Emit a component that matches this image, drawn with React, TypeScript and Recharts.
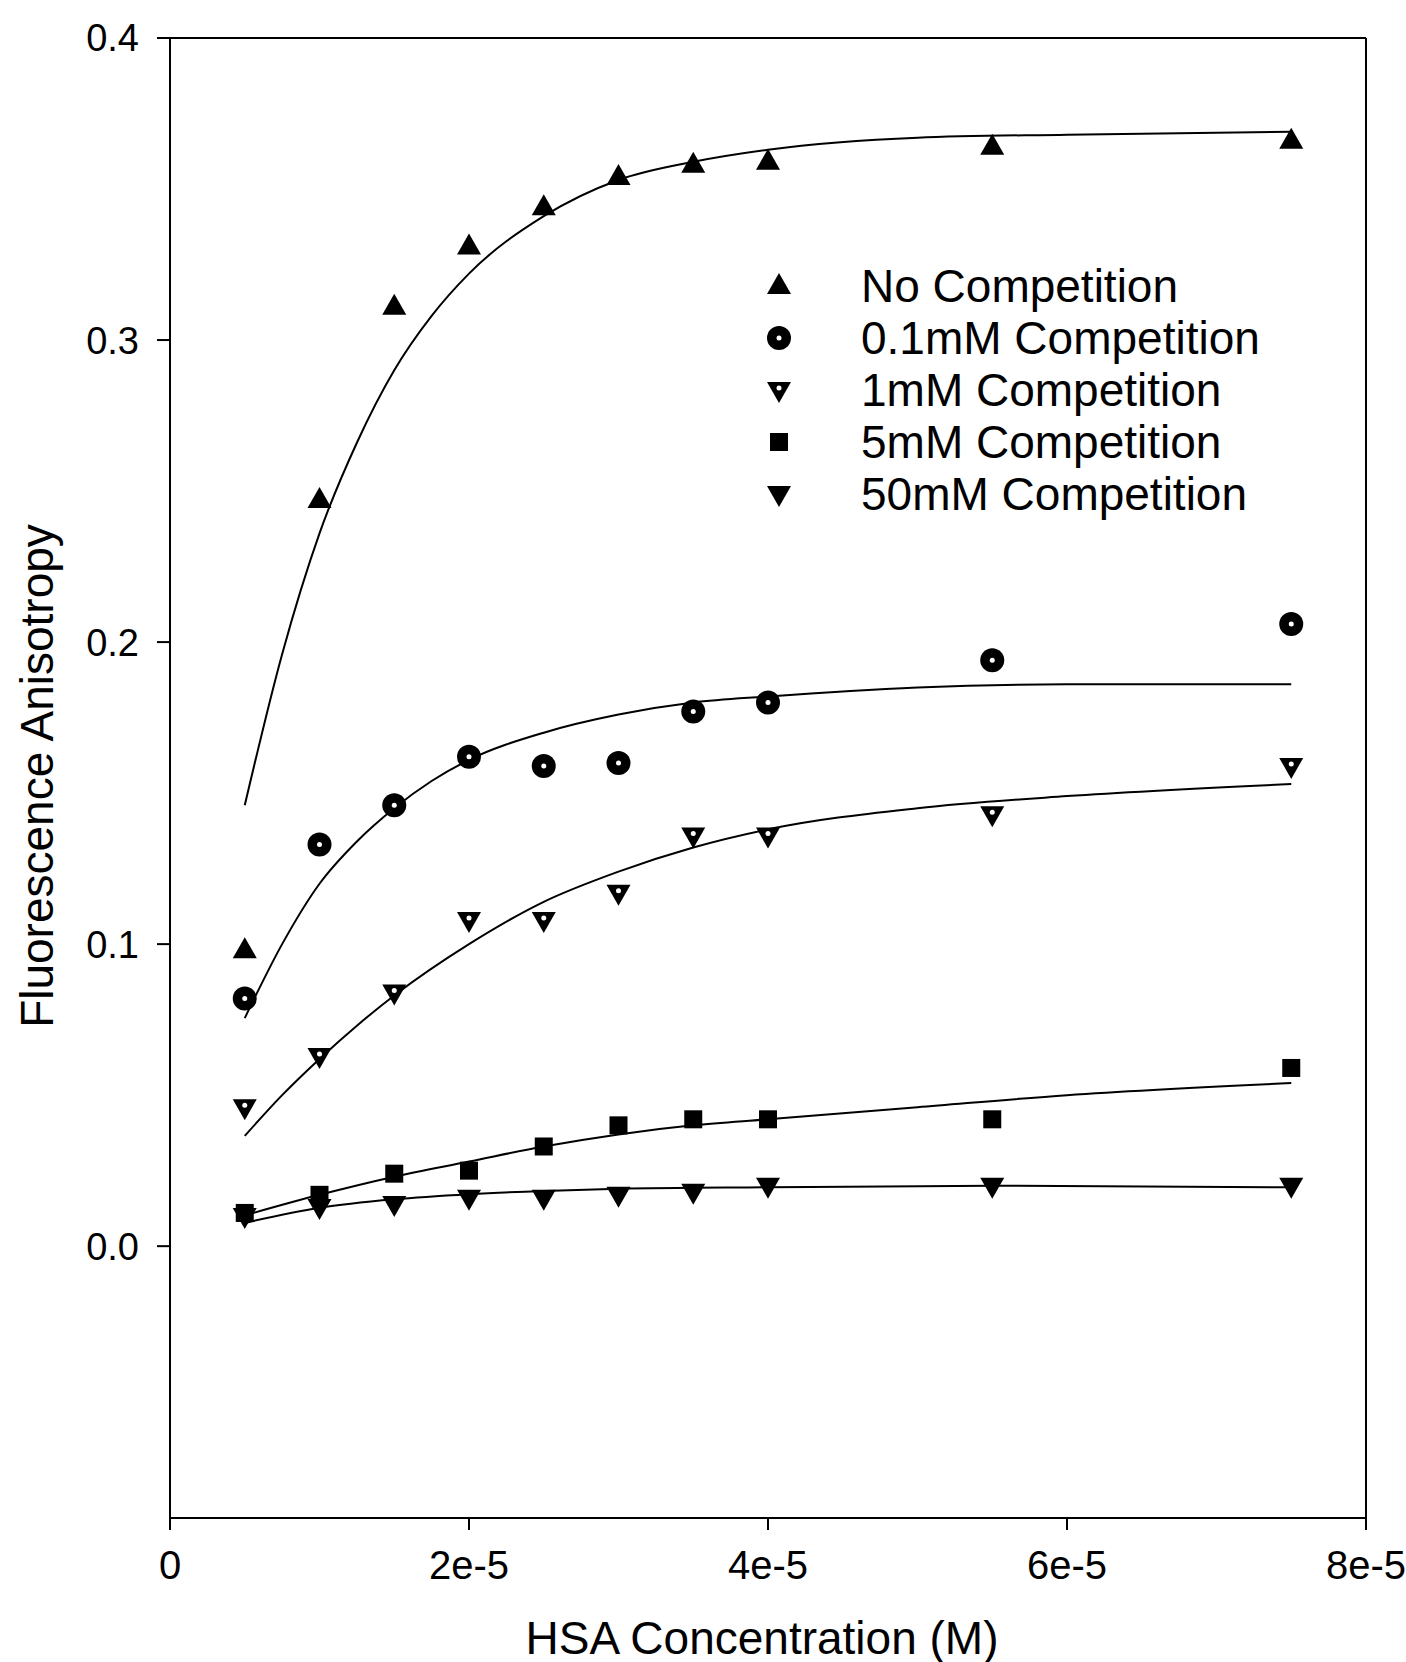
import React from 'react';
import { ComposedChart, Line, Scatter, XAxis, YAxis, ReferenceLine } from 'recharts';

// HSA concentration (M) of the measured points
const hsaConc = [5e-6, 1e-5, 1.5e-5, 2e-5, 2.5e-5, 3e-5, 3.5e-5, 4e-5, 5.5e-5, 7.5e-5];

// measured anisotropy
const noComp = [0.098, 0.247, 0.311, 0.331, 0.344, 0.354, 0.358, 0.359, 0.364, 0.366];
const comp01 = [0.082, 0.133, 0.146, 0.162, 0.159, 0.16, 0.177, 0.18, 0.194, 0.206];
const comp1 = [0.046, 0.063, 0.084, 0.108, 0.108, 0.117, 0.136, 0.136, 0.143, 0.159];
const comp5 = [0.011, 0.017, 0.024, 0.025, 0.033, 0.04, 0.042, 0.042, 0.042, 0.059];
const comp50 = [0.01, 0.013, 0.014, 0.016, 0.016, 0.017, 0.018, 0.02, 0.02, 0.02];

// fitted curves
const fitNoCompX = [5e-6, 7.5e-6, 1e-5, 1.25e-5, 1.5e-5, 1.75e-5, 2e-5, 2.5e-5, 3e-5, 3.5e-5, 4e-5, 5e-5, 6e-5, 7.5e-5];
const fitNoCompY = [0.146, 0.196, 0.236, 0.266, 0.29, 0.308, 0.322, 0.341, 0.353, 0.359, 0.363, 0.367, 0.368, 0.369];
const fit01X = [5e-6, 7.5e-6, 1e-5, 1.25e-5, 1.5e-5, 1.75e-5, 2e-5, 2.5e-5, 3e-5, 3.5e-5, 4e-5, 5e-5, 6e-5, 7.5e-5];
const fit01Y = [0.0755, 0.1, 0.12, 0.134, 0.145, 0.154, 0.161, 0.17, 0.176, 0.18, 0.182, 0.185, 0.186, 0.186];
const fit1X = [5e-6, 7.5e-6, 1e-5, 1.25e-5, 1.5e-5, 2e-5, 2.5e-5, 3e-5, 3.5e-5, 4e-5, 5e-5, 6e-5, 7.5e-5];
const fit1Y = [0.0365, 0.05, 0.062, 0.073, 0.083, 0.1, 0.114, 0.124, 0.132, 0.138, 0.145, 0.149, 0.153];
const fit5X = [5e-6, 1e-5, 1.5e-5, 2e-5, 2.5e-5, 3e-5, 3.5e-5, 4e-5, 5e-5, 6e-5, 7.5e-5];
const fit5Y = [0.0102, 0.017, 0.023, 0.028, 0.033, 0.037, 0.04, 0.042, 0.046, 0.05, 0.054];
const fit50X = [5e-6, 1e-5, 1.5e-5, 2e-5, 2.5e-5, 3e-5, 4e-5, 5.5e-5, 7.5e-5];
const fit50Y = [0.0077, 0.0127, 0.0155, 0.0172, 0.0183, 0.019, 0.0195, 0.02, 0.0195];

const xTicks = [0, 2e-5, 4e-5, 6e-5, 8e-5];
const yTicks = [0, 0.1, 0.2, 0.3, 0.4];

const seriesNames = ['No Competition', '0.1mM Competition', '1mM Competition', '5mM Competition', '50mM Competition'];

const pts = (xs: number[], ys: number[]) => xs.map((x, i) => ({ x, y: ys[i] }));

const FONT = '"Liberation Sans", Arial, Helvetica, sans-serif';

const TriUp = ({ cx, cy }: any) => (
  <path d={`M${cx},${cy - 13} L${cx + 12},${cy + 8} L${cx - 12},${cy + 8} Z`} fill="#000" />
);
const Ring = ({ cx, cy }: any) => (
  <g>
    <circle cx={cx} cy={cy} r={12} fill="#000" />
    <circle cx={cx} cy={cy} r={2.5} fill="#fff" />
  </g>
);
const TriDownDot = ({ cx, cy }: any) => (
  <g>
    <path d={`M${cx - 12},${cy - 8} L${cx + 12},${cy - 8} L${cx},${cy + 13} Z`} fill="#000" />
    <circle cx={cx} cy={cy - 2} r={2.5} fill="#fff" />
  </g>
);
const Square = ({ cx, cy }: any) => <rect x={cx - 9} y={cy - 9} width={18} height={18} fill="#000" />;
const TriDown = ({ cx, cy }: any) => (
  <path d={`M${cx - 12},${cy - 8} L${cx + 12},${cy - 8} L${cx},${cy + 13} Z`} fill="#000" />
);

const shapes = [TriUp, Ring, TriDownDot, Square, TriDown];

const LegendBox = () => (
  <div style={{ position: 'absolute', left: 759, top: 260, fontFamily: FONT, fontSize: 46, color: '#000' }}>
    {seriesNames.map((name, i) => {
      const Shape = shapes[i];
      return (
        <div key={name} style={{ display: 'flex', alignItems: 'center', height: 52 }}>
          <svg width={40} height={40} style={{ marginRight: 62 }}>
            <Shape cx={20} cy={20} />
          </svg>
          <span style={{ lineHeight: '52px', whiteSpace: 'nowrap' }}>{name}</span>
        </div>
      );
    })}
  </div>
);

const fitLine = (xs: number[], ys: number[], key: string) => (
  <Line
    key={key}
    data={pts(xs, ys)}
    dataKey="y"
    type="monotone"
    dot={false}
    stroke="#000"
    strokeWidth={2}
    isAnimationActive={false}
  />
);

const App: React.FC = () => {
  return (
    <div style={{ position: 'absolute', left: 0, top: 0, width: 1406, height: 1662, background: '#fff' }}>
      <ComposedChart width={1406} height={1662} margin={{ top: 38, right: 40, left: 70, bottom: 64 }}>
        <XAxis
          type="number"
          dataKey="x"
          domain={[0, 8e-5]}
          ticks={xTicks}
          allowDataOverflow
          tickFormatter={(v: number) => (v === 0 ? '0' : `${Math.round(v * 1e5)}e-5`)}
          stroke="#000"
          strokeWidth={2}
          tickSize={12}
          tickMargin={21}
          height={80}
          tick={{ fill: '#000', fontSize: 40, fontFamily: FONT }}
        />
        <YAxis
          type="number"
          dataKey="y"
          domain={[-0.09, 0.4]}
          ticks={yTicks}
          allowDataOverflow
          tickFormatter={(v: number) => v.toFixed(1)}
          stroke="#000"
          strokeWidth={2}
          tickSize={13}
          tickMargin={18}
          width={100}
          tick={{ fill: '#000', fontSize: 38, fontFamily: FONT }}
        />
        <ReferenceLine y={0.4} stroke="#000" strokeWidth={2} />
        <ReferenceLine x={8e-5} stroke="#000" strokeWidth={2} />

        {fitLine(fitNoCompX, fitNoCompY, 'f0')}
        {fitLine(fit01X, fit01Y, 'f1')}
        {fitLine(fit1X, fit1Y, 'f2')}
        {fitLine(fit5X, fit5Y, 'f3')}
        {fitLine(fit50X, fit50Y, 'f4')}

        <Scatter name={seriesNames[0]} data={pts(hsaConc, noComp)} dataKey="y" shape={TriUp} isAnimationActive={false} />
        <Scatter name={seriesNames[1]} data={pts(hsaConc, comp01)} dataKey="y" shape={Ring} isAnimationActive={false} />
        <Scatter name={seriesNames[2]} data={pts(hsaConc, comp1)} dataKey="y" shape={TriDownDot} isAnimationActive={false} />
        <Scatter name={seriesNames[3]} data={pts(hsaConc, comp5)} dataKey="y" shape={Square} isAnimationActive={false} />
        <Scatter name={seriesNames[4]} data={pts(hsaConc, comp50)} dataKey="y" shape={TriDown} isAnimationActive={false} />
      </ComposedChart>

      <LegendBox />

      <div
        style={{
          position: 'absolute', left: 37, top: 776, transform: 'translate(-50%, -50%) rotate(-90deg)',
          fontFamily: FONT, fontSize: 46, whiteSpace: 'nowrap', color: '#000',
        }}
      >
        Fluorescence Anisotropy
      </div>
      <div
        style={{
          position: 'absolute', left: 762, top: 1638, transform: 'translate(-50%, -50%)',
          fontFamily: FONT, fontSize: 46, whiteSpace: 'nowrap', color: '#000',
        }}
      >
        HSA Concentration (M)
      </div>
    </div>
  );
};

export default App;
